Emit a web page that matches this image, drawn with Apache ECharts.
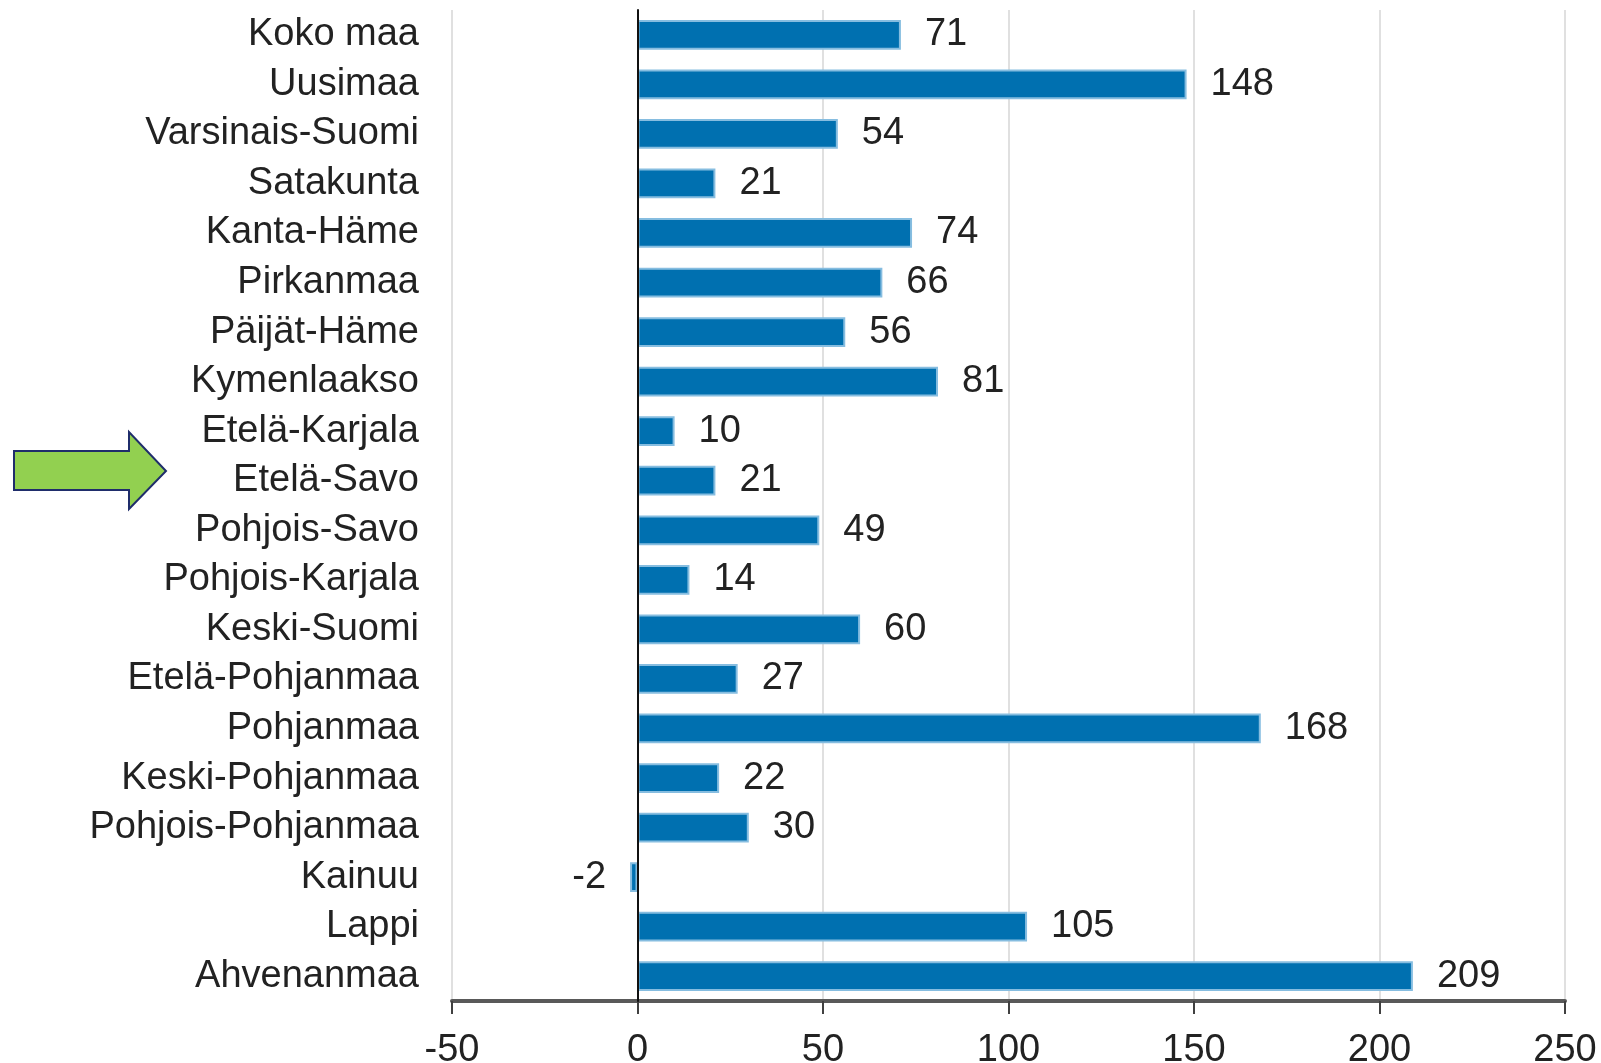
<!DOCTYPE html>
<html><head><meta charset="utf-8">
<script src="https://cdn.jsdelivr.net/npm/echarts@6/dist/echarts.min.js"></script>
<style>html,body{margin:0;padding:0;background:#fff}#c{width:1601px;height:1063px}</style>
</head><body><div id="c"></div>
<script>
const categories = ["Koko maa","Uusimaa","Varsinais-Suomi","Satakunta","Kanta-Häme","Pirkanmaa","Päijät-Häme","Kymenlaakso","Etelä-Karjala","Etelä-Savo","Pohjois-Savo","Pohjois-Karjala","Keski-Suomi","Etelä-Pohjanmaa","Pohjanmaa","Keski-Pohjanmaa","Pohjois-Pohjanmaa","Kainuu","Lappi","Ahvenanmaa"];
const values = [71,148,54,21,74,66,56,81,10,21,49,14,60,27,168,22,30,-2,105,209];
const xMin = -50, xMax = 250, xStep = 50;

const chart = echarts.init(document.getElementById('c'));
const font = 'Liberation Sans, Arial, sans-serif';
const barData = values.map(v => v < 0 ? {value: v, label: {position: 'left'}} : v);
chart.setOption({
  animation: false,
  grid: {left: 452, right: 36, top: 10, bottom: 62, containLabel: false, outerBoundsMode: 'none'},
  xAxis: {
    type: 'value', min: xMin, max: xMax, interval: xStep,
    axisLine: {show: true, onZero: false, lineStyle: {color: '#595959', width: 4}},
    axisTick: {show: true, length: 13, lineStyle: {color: '#404040', width: 2}},
    axisLabel: {color: '#222', fontSize: 38, fontFamily: font, margin: 31},
    splitLine: {show: true, lineStyle: {color: '#e0e0e0', width: 2}}
  },
  yAxis: {
    type: 'category', data: categories, inverse: true, z: 5,
    axisLine: {show: true, onZero: true, lineStyle: {color: '#111', width: 2}},
    axisTick: {show: false},
    axisLabel: {color: '#222', fontSize: 38, fontFamily: font, margin: 33, padding: [9, 0, 0, 0]},
    splitLine: {show: false}
  },
  series: [{
    type: 'bar', data: barData, barWidth: '60%',
    itemStyle: {color: '#0070B0', borderColor: '#86bde0', borderWidth: 2},
    label: {
      show: true, position: 'right', distance: 24, padding: [9, 0, 0, 0],
      color: '#222', fontSize: 38, fontFamily: font
    }
  }],
  graphic: [{
    type: 'polygon',
    shape: {points: [[14,451],[129,451],[129,432],[166,471],[129,509],[129,490],[14,490]]},
    style: {fill: '#92d050', stroke: '#1f2d6b', lineWidth: 2}
  }]
});
</script></body></html>
